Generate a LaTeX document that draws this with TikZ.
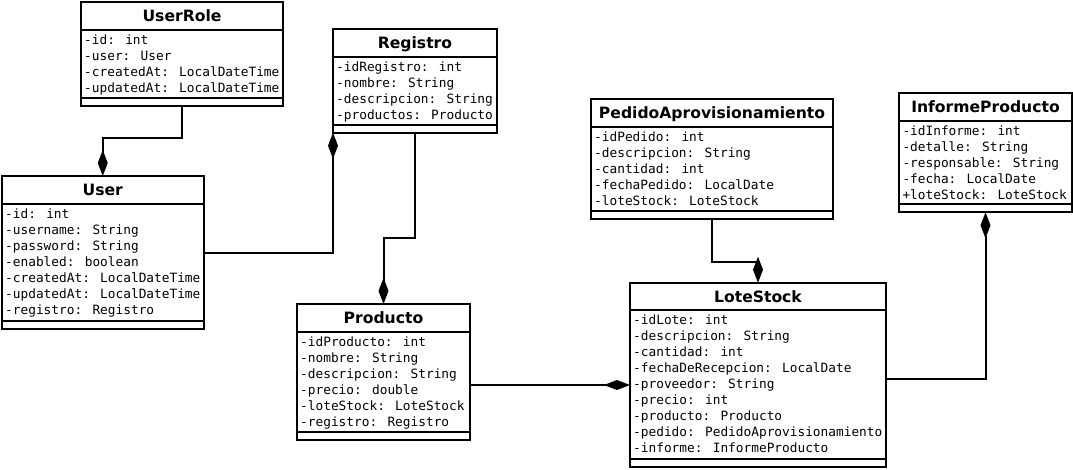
\documentclass[tikz,border=0pt]{standalone}
\usepackage{fontspec}
\setmainfont{DejaVu Sans}
\newfontfamily\attrfont{DejaVu Sans Mono}
\usetikzlibrary{arrows.meta}
\tikzset{
  classbox/.style={draw, line width=2pt, inner sep=0pt, outer sep=0pt},
  sepline/.style={line width=2pt},
  ctitle/.style={font=\fontsize{15.6}{18}\selectfont\bfseries, inner sep=0pt, text height=11.4pt, text depth=0pt},
  cattr/.style={font=\attrfont\fontsize{12.8}{16}\selectfont, inner sep=0pt, anchor=base west},
  assoc/.style={line width=2pt, -{Diamond[length=26pt,width=10pt]}},
}
% #1 name, #2 x1, #3 y1, #4 x2, #5 y2, #6 title, #7 attributes
\newcommand\umlclass[7]{%
  \pgfmathsetmacro\umlya{#3+27.5}%
  \pgfmathsetmacro\umlyb{#5-8}%
  \pgfmathsetmacro\umlw{#4-#2}%
  \pgfmathsetmacro\umlh{#5-#3}%
  \pgfmathsetmacro\umlxc{(#2+#4)/2}%
  \pgfmathsetmacro\umlyc{(#3+\umlya)/2}%
  \node[classbox, anchor=north west, minimum width=\umlw pt, minimum height=\umlh pt] (#1) at (#2,#3) {};
  \draw[sepline] (#2,\umlya) -- (#4,\umlya);
  \draw[sepline] (#2,\umlyb) -- (#4,\umlyb);
  \node[ctitle] (#1-title) at (\umlxc,\umlyc) {#6};
  \foreach \t [count=\i] in {#7} {
    \pgfmathsetmacro\umlyy{\umlya+14.5+16*(\i-1)}
    \node[cattr] (#1-a\i) at (#2+3,\umlyy) {\t};
  }
}
\begin{document}
\begin{tikzpicture}[x=1pt,y=-1pt]
\useasboundingbox (0,0) rectangle (1073,469);
\umlclass{ur}{81}{2}{283}{105.5}{UserRole}{-id: int,-user: User,-createdAt: LocalDateTime,-updatedAt: LocalDateTime}
\umlclass{rg}{333}{29.3}{497}{132.7}{Registro}{-idRegistro: int,-nombre: String,-descripcion: String,-productos: Producto}
\umlclass{us}{2}{176}{203.5}{329}{User}{-id: int,-username: String,-password: String,-enabled: boolean,-createdAt: LocalDateTime,-updatedAt: LocalDateTime,-registro: Registro}
\umlclass{pr}{297}{304}{470}{440}{Producto}{-idProducto: int,-nombre: String,-descripcion: String,-precio: double,-loteStock: LoteStock,-registro: Registro}
\umlclass{pa}{591}{99.3}{833}{219.3}{PedidoAprovisionamiento}{-idPedido: int,-descripcion: String,-cantidad: int,-fechaPedido: LocalDate,-loteStock: LoteStock}
\umlclass{ip}{899.3}{93.3}{1071.7}{212.3}{InformeProducto}{-idInforme: int,-detalle: String,-responsable: String,-fecha: LocalDate,+loteStock: LoteStock}
\umlclass{ls}{630}{282.7}{886}{466.7}{LoteStock}{-idLote: int,-descripcion: String,-cantidad: int,-fechaDeRecepcion: LocalDate,-proveedor: String,-precio: int,-producto: Producto,-pedido: PedidoAprovisionamiento,-informe: InformeProducto}

\draw[assoc] (ur.south) -- ++(0,32.5) -| (us.north);
\draw[assoc] (us.east) -| (rg.south west);
\draw[assoc] (rg.south) -- ++(0,105.3) -| (pr.north);
\draw[assoc] ([yshift=-13pt]pr.east) -- ([yshift=-13pt]pr.east -| ls.west);
\draw[assoc] (pa.south) -- ++(0,42.7) -| (ls.north);
\draw[assoc] ([yshift=-4pt]ls.east) -| (ip.south);
\end{tikzpicture}
\end{document}
